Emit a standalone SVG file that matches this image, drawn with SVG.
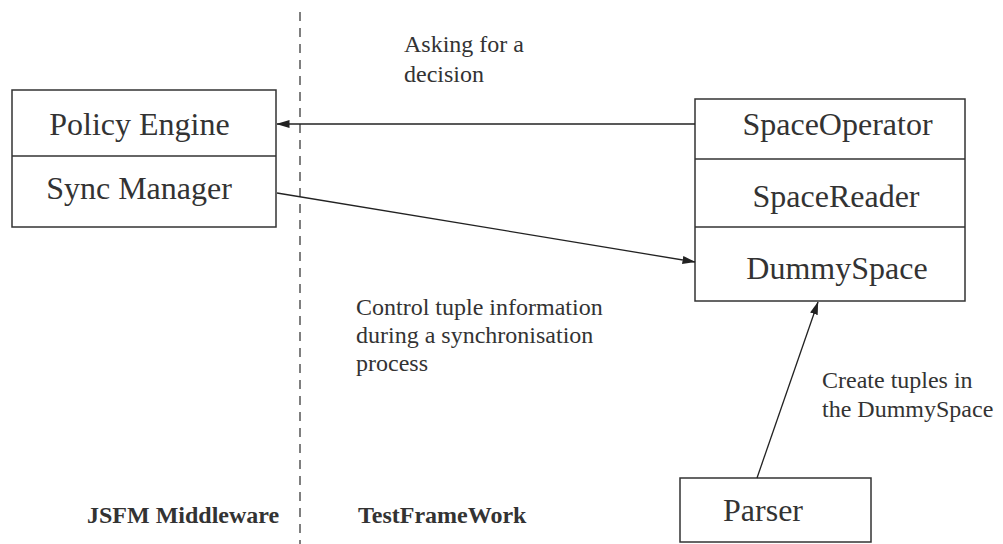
<svg xmlns="http://www.w3.org/2000/svg" width="1003" height="544" viewBox="0 0 1003 544">
<defs>
<style>
.box{fill:#fff;stroke:#333;stroke-width:1.5}
.div{stroke:#333;stroke-width:1.5}
.big{font-family:"Times New Roman","Liberation Serif","DejaVu Serif",serif;font-size:32px;fill:#333;text-anchor:middle}
.lab{font-family:"Times New Roman","Liberation Serif","DejaVu Serif",serif;font-size:24px;fill:#333}
.bold{font-family:"Times New Roman","Liberation Serif","DejaVu Serif",serif;font-size:24px;font-weight:bold;fill:#333}
.conn{stroke:#222;stroke-width:1.3;fill:none}
</style>
<marker id="ah" markerWidth="13" markerHeight="8" refX="12.5" refY="4" orient="auto" markerUnits="userSpaceOnUse">
<path d="M0,0 L13,4 L0,8 Z" fill="#222"/>
</marker>
</defs>
<rect width="1003" height="544" fill="#fff"/>
<line id="separator" x1="300" y1="12" x2="300" y2="544" stroke="#555" stroke-width="1.5" stroke-dasharray="9 7"/>
<g id="left-node">
<rect class="box" x="12" y="90" width="264" height="137"/>
<line class="div" x1="12" y1="156" x2="276" y2="156"/>
<text class="big" x="139.5" y="135">Policy Engine</text>
<text class="big" x="139" y="199">Sync Manager</text>
</g>
<g id="right-node">
<rect class="box" x="695" y="99" width="270" height="202"/>
<line class="div" x1="695" y1="159" x2="965" y2="159"/>
<line class="div" x1="695" y1="227" x2="965" y2="227"/>
<text class="big" x="837.5" y="135">SpaceOperator</text>
<text class="big" x="836" y="207">SpaceReader</text>
<text class="big" x="837" y="279">DummySpace</text>
</g>
<g id="parser-node">
<rect class="box" x="680" y="478" width="191" height="64"/>
<text class="big" x="763" y="521">Parser</text>
</g>
<g id="connectors">
<line class="conn" x1="695" y1="124" x2="277" y2="124" marker-end="url(#ah)"/>
<line class="conn" x1="277" y1="193" x2="695" y2="262" marker-end="url(#ah)"/>
<line class="conn" x1="757" y1="478" x2="818" y2="302" marker-end="url(#ah)"/>
</g>
<g id="labels">
<text class="lab" x="404" y="52">Asking for a</text>
<text class="lab" x="404" y="82">decision</text>
<text class="lab" x="356" y="315">Control tuple information</text>
<text class="lab" x="356" y="343">during a synchronisation</text>
<text class="lab" x="356" y="371">process</text>
<text class="lab" x="822" y="388">Create tuples in</text>
<text class="lab" x="822" y="417">the DummySpace</text>
<text class="bold" x="87" y="523">JSFM Middleware</text>
<text class="bold" x="358" y="523">TestFrameWork</text>
</g>
</svg>
